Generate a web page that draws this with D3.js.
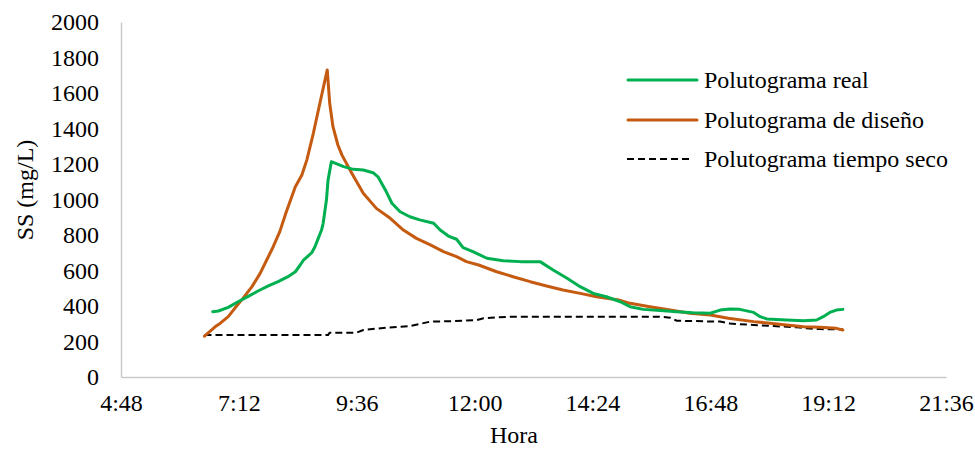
<!DOCTYPE html>
<html>
<head>
<meta charset="utf-8">
<script src="https://cdn.jsdelivr.net/npm/d3@7"></script>
<style>
  html, body { margin: 0; padding: 0; background: #fff; }
  svg { display: block; }
  text { font-family: "Liberation Serif", "Times New Roman", serif; fill: #000; }
</style>
</head>
<body>
<svg id="chart" width="975" height="450"></svg>
<script>
// ---- data ----
const seriesNames = ["Polutograma real", "Polutograma de diseño", "Polutograma tiempo seco"];

const realTimes = ["6:40","6:47","6:59","7:11","7:24","7:36","7:48","8:00","8:12","8:21","8:27","8:31","8:41","8:45","8:49","8:53","8:55","8:59","9:01","9:05","9:20","9:32","9:44","9:56","10:02","10:11","10:19","10:29","10:41","10:53","11:10","11:18","11:28","11:38","11:46","11:58","12:15","12:35","12:56","13:20","13:36","13:53","14:09","14:25","14:41","14:58","15:10","15:26","15:47","16:07","16:27","16:48","17:00","17:12","17:24","17:41","17:49","17:57","18:21","18:42","18:58","19:06","19:14","19:22","19:30"];
const realValues = [368,372,392,424,456,486,513,537,565,593,631,659,700,734,781,828,866,997,1110,1213,1185,1170,1166,1151,1128,1054,979,931,903,885,866,828,794,776,729,706,669,655,650,650,603,556,509,471,452,424,396,381,374,368,362,359,377,383,381,364,340,327,321,317,321,340,364,377,381];

const designTimes = ["6:30","6:43","6:49","6:59","7:07","7:17","7:28","7:38","7:46","7:54","8:02","8:10","8:21","8:29","8:35","8:43","8:51","9:00","9:03","9:07","9:13","9:18","9:30","9:44","10:00","10:17","10:33","10:49","11:06","11:22","11:38","11:50","12:05","12:27","12:47","13:08","13:28","13:48","14:09","14:29","14:56","15:10","15:34","15:59","16:23","16:48","17:10","17:41","18:01","18:21","18:42","19:02","19:22","19:30"];
const designValues = [230,283,302,340,387,443,509,584,659,734,819,931,1072,1138,1222,1373,1542,1730,1542,1410,1307,1250,1148,1035,950,894,828,781,744,706,678,650,631,593,565,537,513,490,471,452,434,415,396,377,359,349,331,312,303,293,283,280,274,265];

const dryTimes = ["6:30","9:01","9:03","9:36","9:44","10:13","10:41","10:53","11:06","11:34","12:03","12:11","12:43","15:46","15:59","16:07","16:30","16:48","17:00","17:12","17:20","17:41","18:05","18:34","18:46","19:02","19:30"];
const dryValues = [237,237,250,250,265,278,287,299,312,315,321,331,340,340,334,317,315,312,312,302,299,293,287,280,274,270,268];

const xTickLabels = ["4:48","7:12","9:36","12:00","14:24","16:48","19:12","21:36"];
const yTickValues = [0,200,400,600,800,1000,1200,1400,1600,1800,2000];

const colors = ["#00B050", "#C55A11", "#000000"];

// ---- helpers ----
const toMin = s => { const [h, m] = s.split(":").map(Number); return h * 60 + m; };
const fmt = m => `${Math.floor(m / 60)}:${String(m % 60).padStart(2, "0")}`;
const FS = 24;

// ---- layout ----
const svg = d3.select("#chart");
const plotL = 121, plotR = 946, plotT = 22, plotB = 377;

const x = d3.scaleLinear().domain([toMin(xTickLabels[0]), toMin(xTickLabels[xTickLabels.length - 1])]).range([plotL, plotR]);
const y = d3.scaleLinear().domain([0, 2000]).range([plotB, plotT]);

// axes
const xAxis = d3.axisBottom(x).tickValues(xTickLabels.map(toMin)).tickFormat(fmt).tickSize(0).tickPadding(17);
const gx = svg.append("g").attr("transform", `translate(0,${plotB})`).call(xAxis);
gx.select(".domain").attr("stroke", "#c9c9c9").attr("stroke-width", 1.5);
gx.selectAll("text").attr("font-size", FS).attr("font-family", "Liberation Serif");

const yAxis = d3.axisLeft(y).tickValues(yTickValues).tickFormat(d3.format("d")).tickSize(0).tickPadding(22);
const gy = svg.append("g").attr("transform", `translate(${plotL},0)`).call(yAxis);
gy.select(".domain").attr("stroke", "#c9c9c9").attr("stroke-width", 1.5);
gy.selectAll("text").attr("font-size", FS).attr("font-family", "Liberation Serif");

// axis titles
svg.append("text").attr("x", 514).attr("y", 443).attr("text-anchor", "middle")
  .attr("font-size", FS).text("Hora");
svg.append("text").attr("transform", "translate(33,190) rotate(-90)").attr("text-anchor", "middle")
  .attr("font-size", FS).text("SS (mg/L)");

// lines
const line = d3.line().x(d => x(d.t)).y(d => y(d.v));
const mk = (ts, vs) => ts.map((t, i) => ({ t: toMin(t), v: vs[i] }));

svg.append("path").datum(mk(dryTimes, dryValues)).attr("d", line)
  .attr("fill", "none").attr("stroke", colors[2]).attr("stroke-width", 2).attr("stroke-dasharray", "7,4");
svg.append("path").datum(mk(designTimes, designValues)).attr("d", line)
  .attr("fill", "none").attr("stroke", colors[1]).attr("stroke-width", 3).attr("stroke-linejoin", "round").attr("stroke-linecap", "round");
svg.append("path").datum(mk(realTimes, realValues)).attr("d", line)
  .attr("fill", "none").attr("stroke", colors[0]).attr("stroke-width", 3).attr("stroke-linejoin", "round").attr("stroke-linecap", "round");

// legend
const legY = [80, 120, 159];
seriesNames.forEach((name, i) => {
  const g = svg.append("g");
  const ln = g.append("line").attr("x1", 628).attr("x2", 697).attr("y1", legY[i]).attr("y2", legY[i])
    .attr("stroke", colors[i]);
  if (i < 2) ln.attr("stroke-width", 3).attr("stroke-linecap", "round");
  else ln.attr("stroke-width", 2).attr("stroke-dasharray", "7,4").attr("x1", 627).attr("x2", 690);
  g.append("text").attr("x", 704).attr("y", legY[i] + 8).attr("font-size", FS).text(name);
});
</script>
</body>
</html>
